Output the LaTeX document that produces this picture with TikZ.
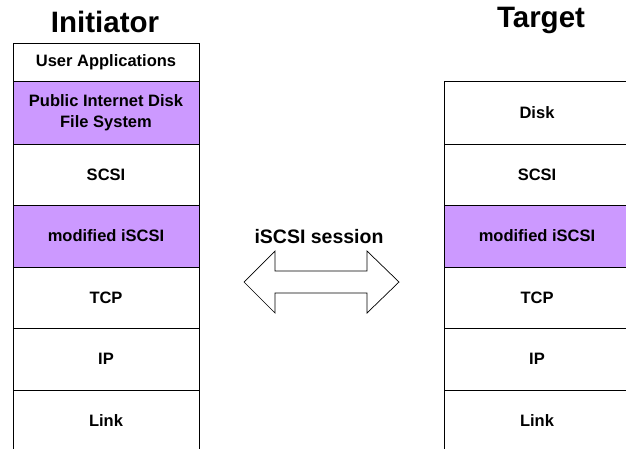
\documentclass[tikz,border=0pt]{standalone}
\usepackage{fontspec}
\setmainfont{Liberation Sans}
\definecolor{layerpurple}{HTML}{CC99FF}
\begin{document}
\begin{tikzpicture}[x=1pt,y=-1pt,
  layer/.style={draw=black, line width=0.8pt, fill=white, inner sep=0pt, outer sep=0pt,
    minimum width=186pt, anchor=north west, align=center,
    font=\fontsize{16.5}{20.5}\selectfont\bfseries},
  purple/.style={fill=layerpurple},
  title/.style={anchor=base, font=\fontsize{29.5}{32}\selectfont\bfseries, inner sep=0pt},
  sessionlabel/.style={anchor=base, font=\fontsize{19.5}{22}\selectfont\bfseries, inner sep=0pt},
  bigarrow/.style={draw=black, line width=0.7pt, fill=white, line join=miter}
]
\useasboundingbox (0,0) rectangle (626,448);
\clip (0,0) rectangle (626,448);
% titles
\node[title] (tinit) at (105,32) {Initiator};
\node[title] (ttarg) at (541,27) {Target};
% initiator stack
\node[layer, minimum height=38pt] (iua) at (13,43) {User Applications};
\node[layer, purple, minimum height=63pt] (ipid) at (13,81) {Public Internet Disk\\File System};
\node[layer, minimum height=61pt] (iscsi) at (13,144) {SCSI};
\node[layer, purple, minimum height=62pt] (imod) at (13,205) {modified iSCSI};
\node[layer, minimum height=61pt] (itcp) at (13,267) {TCP};
\node[layer, minimum height=62pt] (iip) at (13,328) {IP};
\node[layer, minimum height=62pt] (ilink) at (13,390) {Link};
% target stack
\node[layer, minimum height=63pt] (tdisk) at (444,81) {Disk};
\node[layer, minimum height=61pt] (tscsi) at (444,144) {SCSI};
\node[layer, purple, minimum height=62pt] (tmod) at (444,205) {modified iSCSI};
\node[layer, minimum height=61pt] (ttcp) at (444,267) {TCP};
\node[layer, minimum height=62pt] (tip) at (444,328) {IP};
\node[layer, minimum height=62pt] (tlink) at (444,390) {Link};
% session arrow
\node[sessionlabel] (sess) at (319,243) {iSCSI session};
\draw[bigarrow] (244,282) -- (275,251) -- (275,271) -- (367,271) -- (367,251)
  -- (399,282) -- (367,313) -- (367,293) -- (275,293) -- (275,313) -- cycle;
\end{tikzpicture}
\end{document}
